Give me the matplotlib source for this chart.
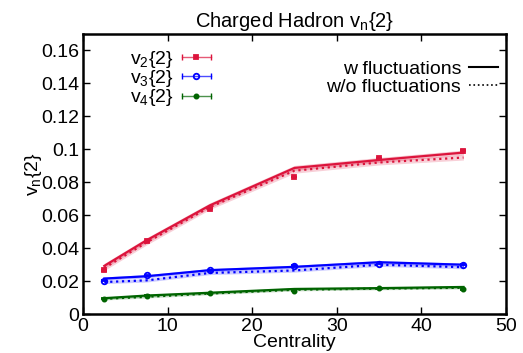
import numpy as np
import matplotlib
matplotlib.use("Agg")
import matplotlib.pyplot as plt
from matplotlib.ticker import FuncFormatter
from matplotlib.lines import Line2D
from matplotlib.legend_handler import HandlerBase

plt.rcParams['font.family'] = ['Liberation Sans', 'DejaVu Sans']
plt.rcParams['mathtext.fontset'] = 'custom'
plt.rcParams['mathtext.rm'] = 'Liberation Sans'
plt.rcParams['mathtext.it'] = 'Liberation Sans'

# Centrality bins (%)
centrality = [2.5, 7.5, 15, 25, 35, 45]

# Data points
v2_data = [0.0267, 0.0442, 0.0638, 0.0832, 0.0947, 0.0990]
v3_data = [0.0204, 0.0236, 0.0265, 0.0293, 0.0307, 0.0301]
v4_data = [0.0095, 0.0113, 0.0127, 0.0141, 0.0156, 0.0152]
err_data = [0.0003, 0.0003, 0.0003, 0.0003, 0.0003, 0.0003]

# Model with fluctuations
v2_w = [0.0293, 0.0448, 0.0660, 0.0887, 0.0935, 0.0980]
v3_w = [0.0216, 0.0230, 0.0267, 0.0287, 0.0315, 0.0300]
v4_w = [0.0097, 0.0113, 0.0130, 0.0153, 0.0158, 0.0165]

# Model without fluctuations
v2_wo = [0.0280, 0.0435, 0.0650, 0.0870, 0.0920, 0.0950]
v3_wo = [0.0195, 0.0205, 0.0250, 0.0265, 0.0300, 0.0285]
v4_wo = [0.0093, 0.0105, 0.0125, 0.0148, 0.0155, 0.0160]

band2 = 0.0015
band3 = 0.001
band4 = 0.0007

red = '#dc143c'
blue = '#0000ff'
green = '#006400'


# gnuplot-style legend sample: horizontal bar with end caps and marker in the middle
class HErrHandler(HandlerBase):
    def create_artists(self, legend, orig, xdescent, ydescent, width, height, fontsize, trans):
        col = orig.get_color()
        y = height / 2 - ydescent
        x0, x1 = -xdescent, -xdescent + width
        bar = Line2D([x0, x1], [y, y], color=col, lw=1, alpha=0.7, transform=trans)
        caps = Line2D([x0, x1], [y, y], ls='none', marker='|', ms=5, color=col, transform=trans)
        mk = Line2D([(x0 + x1) / 2], [y], ls='none', marker=orig.get_marker(), ms=orig.get_markersize(),
                    color=col, mfc=orig.get_markerfacecolor(), mew=orig.get_markeredgewidth(), transform=trans)
        return [bar, caps, mk]


fig, ax = plt.subplots(figsize=(5.23, 3.53), dpi=100)
fig.subplots_adjust(left=0.159, right=0.967, top=0.904, bottom=0.110)

series = [
    (v2_data, v2_w, v2_wo, band2, red, 's', 3.5, red, r'v$_2${2}'),
    (v3_data, v3_w, v3_wo, band3, blue, 'o', 4, 'none', r'v$_3${2}'),
    (v4_data, v4_w, v4_wo, band4, green, 'o', 3, green, r'v$_4${2}'),
]

handles = []
for dat, w, wo, b, col, mk, ms, mfc, lab in series:
    w = np.array(w)
    wo = np.array(wo)
    ax.fill_between(centrality, w - b, w + b, color=col, alpha=0.25, lw=0)
    ax.fill_between(centrality, wo - b, wo + b, color=col, alpha=0.2, lw=0)
    ax.plot(centrality, w, '-', color=col, lw=1.6)
    ax.plot(centrality, wo, ':', color=col, lw=1.6)
    ax.errorbar(centrality, dat, yerr=err_data, fmt=mk, color=col, ms=ms,
                mfc=mfc, mew=1.3, capsize=2, elinewidth=1)
    handles.append(Line2D([], [], color=col, marker=mk, ms=ms, mfc=mfc, mew=1.3, label=lab))

leg1 = ax.legend(handles=handles, loc='upper left', bbox_to_anchor=(0.089, 0.98),
                 markerfirst=False, frameon=False, fontsize=14, handlelength=1.5,
                 labelspacing=-0.1, handletextpad=0.4, borderpad=0.0,
                 handler_map={Line2D: HErrHandler()})
ax.add_artist(leg1)

lines = [Line2D([], [], color='black', lw=1.5, ls='-'),
         Line2D([], [], color='black', lw=1.2, ls=':')]
ax.legend(lines, ['w fluctuations', 'w/o fluctuations'], loc='upper right',
          bbox_to_anchor=(1.005, 0.94), markerfirst=False, frameon=False,
          fontsize=14, handlelength=1.5, labelspacing=0.0, handletextpad=0.4,
          borderpad=0.0)

ax.set_xlim(0, 50)
ax.set_ylim(0, 0.17)
ax.set_xticks([0, 10, 20, 30, 40, 50])
ax.set_yticks(np.arange(0, 0.161, 0.02))
ax.yaxis.set_major_formatter(FuncFormatter(lambda v, p: '%g' % round(v, 3)))
ax.tick_params(direction='in', top=True, right=True, labelsize=14, length=5, width=1, pad=3)
for s in ax.spines.values():
    s.set_linewidth(1.8)

ax.set_xlabel('Centrality', fontsize=14, labelpad=-1)
ax.set_ylabel(r'v$_n${2}', fontsize=14, labelpad=-2)
ax.set_title(r'Charged Hadron v$_n${2}', fontsize=14.5, pad=5)

plt.savefig("out.png", dpi=100)
